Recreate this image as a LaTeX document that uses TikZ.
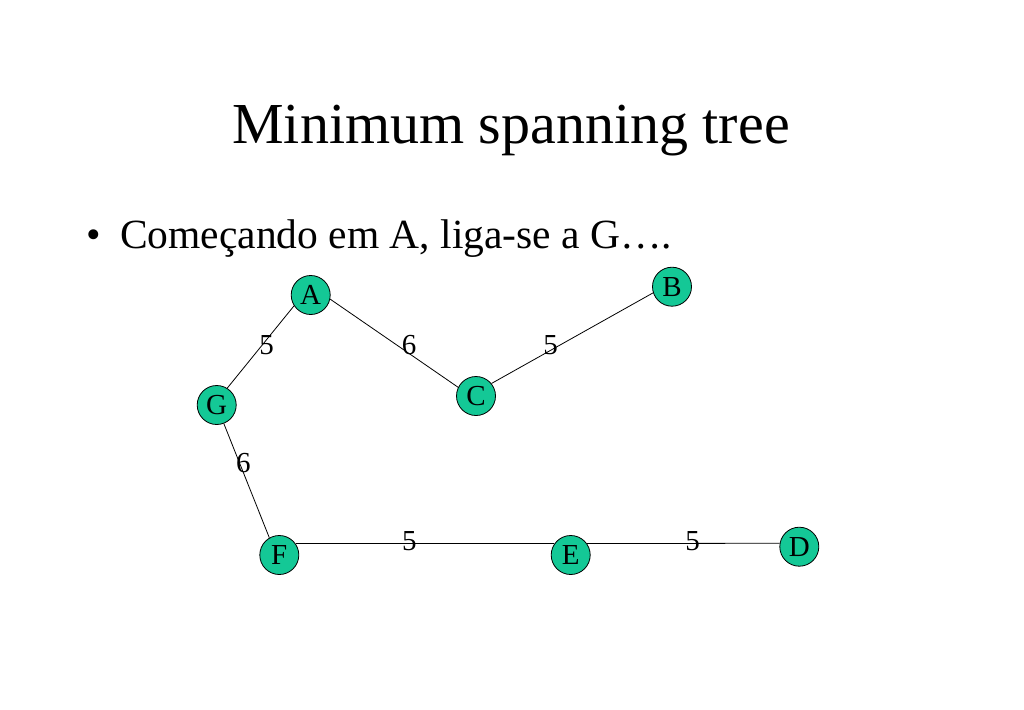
\documentclass[tikz,border=0pt]{standalone}
\usepackage{fontspec}
\setmainfont{Liberation Serif}
\definecolor{nodegreen}{RGB}{20,200,150}
\tikzset{
  vertex/.style={circle, draw, line width=0.8pt, fill=nodegreen, minimum size=39pt, inner sep=0pt, font=\fontsize{29}{29}\selectfont},
  weight/.style={inner sep=0pt, font=\fontsize{29}{29}\selectfont},
  edge/.style={line width=0.8pt}
}
\begin{document}
\begin{tikzpicture}[x=1pt,y=-1pt]
  \useasboundingbox[fill=white] (0,0) rectangle (1024,709);
  % title and bullet line
  \node[anchor=base, inner sep=0pt, font=\fontsize{58}{58}\selectfont] (title) at (511,143.3) {Minimum spanning tree};
  \node[anchor=base west, inner sep=0pt, font=\fontsize{41.5}{41.5}\selectfont] (bullet) at (86,248.3) {\textbullet};
  \node[anchor=base west, inner sep=0pt, font=\fontsize{41.5}{41.5}\selectfont] (intro) at (120,248.3) {Começando em A, liga-se a G….};
  % vertices
  \node[vertex] (A) at (310.7,295) {A};
  \node[vertex] (B) at (672,286.7) {B};
  \node[vertex] (C) at (476,396) {C};
  \node[vertex] (G) at (216.7,405) {G};
  \node[vertex] (F) at (279.3,555) {F};
  \node[vertex] (E) at (570.7,555) {E};
  \node[vertex] (D) at (799.3,546.7) {D};
  % edges of the tree
  \draw[edge] (G.58) -- (A.213);
  \draw[edge] (A.348) -- (C.154);
  \draw[edge] (C.39) -- (B.198);
  \draw[edge] (G.291) -- (F.120);
  \draw[edge] (F.35) -- (E.145);
  \draw[edge] (E.35) -- (D.170);
  % weights
  \node[weight] (wga) at (266.7,345) {5};
  \node[weight] (wac) at (409,345) {6};
  \node[weight] (wcb) at (550.7,345) {5};
  \node[weight] (wgf) at (243.3,463.3) {6};
  \node[weight] (wfe) at (409.3,540.7) {5};
  \node[weight] (wed) at (692.7,540.7) {5};
\end{tikzpicture}
\end{document}
